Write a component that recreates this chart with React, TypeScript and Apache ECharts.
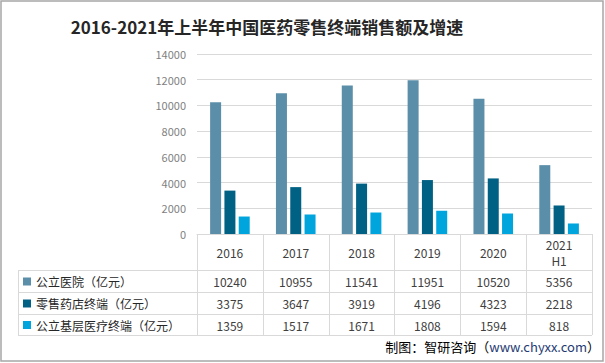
import React, { useEffect, useRef } from "react";
import * as echarts from "echarts";

const title = "2016-2021年上半年中国医药零售终端销售额及增速";
const categories = ["2016", "2017", "2018", "2019", "2020", "2021\nH1"];
const seriesNames = ["公立医院（亿元）", "零售药店终端（亿元）", "公立基层医疗终端（亿元）"];
const hospital = [10240, 10955, 11541, 11951, 10520, 5356];
const pharmacy = [3375, 3647, 3919, 4196, 4323, 2218];
const primary = [1359, 1517, 1671, 1808, 1594, 818];
const yMin = 0;
const yMax = 14000;
const yInterval = 2000;
const footerPrefix = "制图：智研咨询（";
const footerUrl = "www.chyxx.com";
const footerSuffix = "）";

const colors = ["#5B8FA9", "#006184", "#00A5DD"];
const FONT = "'Noto Sans CJK SC', 'Noto Sans', sans-serif";

export default function App() {
  const ref = useRef<HTMLDivElement>(null);
  useEffect(() => {
    document.body.style.margin = "0";
    if (!ref.current) return;
    const chart = echarts.init(ref.current, undefined, { renderer: "svg" });
    const seriesData = [hospital, pharmacy, primary];
    const W = 605;
    chart.setOption({
      animation: false,
      textStyle: { fontFamily: FONT },
      title: {
        text: title,
        left: 262,
        top: 13,
        textAlign: "center",
        textStyle: { fontSize: 17, fontWeight: "bold", color: "#262626", fontFamily: FONT },
      },
      grid: { left: 197, right: 13, top: 54, bottom: 129, containLabel: false },
      xAxis: {
        type: "category",
        data: categories,
        axisLine: { show: true, lineStyle: { color: "#d9d9d9", width: 1 } },
        axisTick: { show: false },
        axisLabel: { show: false },
      },
      yAxis: {
        type: "value",
        min: yMin,
        max: yMax,
        interval: yInterval,
        axisLine: { show: false },
        axisTick: { show: false },
        axisLabel: {
          color: "#7f7f7f",
          fontSize: 11,
          margin: 11,
          fontFamily: FONT,
          formatter: (v: number) => String(v),
        },
        splitLine: { lineStyle: { color: "#d9d9d9", width: 1 } },
      },
      series: seriesData.map((d, i) => ({
        name: seriesNames[i],
        type: "bar",
        data: d,
        barWidth: 11,
        barGap: "30%",
        itemStyle: { color: colors[i] },
      })),
    });

    // Data table below the axis, placed with the axis' own pixel positions
    const centers = categories.map((_, i) => chart.convertToPixel({ xAxisIndex: 0 }, i) as number);
    const colW = centers.length > 1 ? centers[1] - centers[0] : 60;
    const bounds = centers.map((c) => c - colW / 2);
    bounds.push(centers[centers.length - 1] + colW / 2);
    const axisY = chart.convertToPixel({ yAxisIndex: 0 }, 0) as number;
    const tableLeft = 18;
    const rowEdges = [270, 292, 314, 335];
    const tableRight = bounds[bounds.length - 1];
    const lineStyle = { stroke: "#d9d9d9", lineWidth: 1 };
    const g: any[] = [];
    g.push({
      type: "rect",
      shape: { x: 1, y: 1, width: W - 3, height: 363 - 3 },
      style: { fill: "none", stroke: "#a6a6a6", lineWidth: 1.5 },
      silent: true,
    });
    rowEdges.forEach((y) => {
      g.push({ type: "line", shape: { x1: tableLeft, y1: y + 0.5, x2: tableRight, y2: y + 0.5 }, style: lineStyle });
    });
    g.push({
      type: "line",
      shape: { x1: tableLeft + 0.5, y1: rowEdges[0], x2: tableLeft + 0.5, y2: rowEdges[rowEdges.length - 1] },
      style: lineStyle,
    });
    bounds.forEach((x) => {
      g.push({
        type: "line",
        shape: { x1: Math.round(x) + 0.5, y1: axisY, x2: Math.round(x) + 0.5, y2: rowEdges[rowEdges.length - 1] },
        style: lineStyle,
      });
    });
    const yearMid = (axisY + rowEdges[0]) / 2;
    categories.forEach((c, i) => {
      g.push({
        type: "text",
        x: centers[i],
        y: yearMid,
        style: {
          text: c,
          fontSize: 12,
          lineHeight: 16,
          fill: "#404040",
          fontFamily: FONT,
          align: "center",
          verticalAlign: "middle",
        },
      });
    });
    seriesData.forEach((d, r) => {
      const mid = (rowEdges[r] + rowEdges[r + 1]) / 2 + 0.5;
      g.push({
        type: "rect",
        shape: { x: 23, y: mid - 4, width: 8, height: 8 },
        style: { fill: colors[r] },
      });
      g.push({
        type: "text",
        x: 36,
        y: mid,
        style: {
          text: seriesNames[r],
          fontSize: 12,
          fill: "#262626",
          fontFamily: FONT,
          align: "left",
          verticalAlign: "middle",
        },
      });
      d.forEach((v, i) => {
        g.push({
          type: "text",
          x: centers[i],
          y: mid,
          style: {
            text: String(v),
            fontSize: 12,
            fill: "#404040",
            fontFamily: FONT,
            align: "center",
            verticalAlign: "middle",
          },
        });
      });
    });
    g.push({
      type: "text",
      x: 600,
      y: 346,
      style: {
        text: `{a|${footerPrefix}}{b|${footerUrl}}{a|${footerSuffix}}`,
        align: "right",
        verticalAlign: "middle",
        rich: {
          a: { fontSize: 13, fill: "#000000", color: "#000000", fontFamily: FONT },
          b: { fontSize: 13, fill: "#1f3b73", color: "#1f3b73", fontFamily: FONT },
        },
      },
    });
    chart.setOption({ graphic: { elements: g } });
    return () => chart.dispose();
  }, []);
  return <div ref={ref} style={{ width: 605, height: 363 }} />;
}
